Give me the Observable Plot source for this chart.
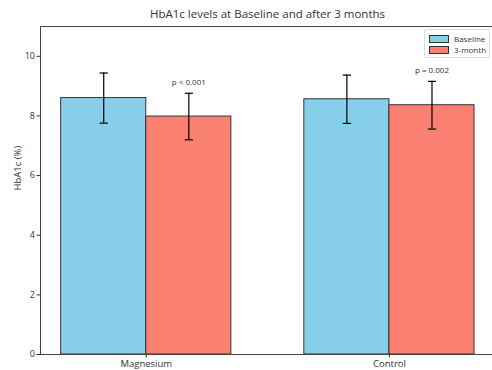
<!DOCTYPE html>
<html>
<head>
<meta charset="utf-8">
<script src="https://cdn.jsdelivr.net/npm/d3@7"></script>
<script src="https://cdn.jsdelivr.net/npm/@observablehq/plot@0.6"></script>
<style>
  body { margin: 0; background: #fff; }
  #wrap { position: relative; width: 492px; height: 370px; font-family: "Open Sans", sans-serif; color: #333; }
  #title { position: absolute; top: 6px; left: 40px; width: 455px; text-align: center; font-size: 11.5px; color: #333; }
  #legend { position: absolute; left: 424px; top: 29px; width: 64px; height: 27px; border: 1px solid #ddd; border-radius: 2px; background: rgba(255,255,255,0.85); font-size: 8px; color: #333; }
  .item { position: absolute; left: 4px; display: flex; align-items: center; }
  .sw { width: 18px; height: 6px; border: 1px solid #333; margin-right: 5px; }
</style>
</head>
<body>
<div id="wrap">
  <div id="chart"></div>
  <div id="title">HbA1c levels at Baseline and after 3 months</div>
  <div id="legend"></div>
</div>
<script>
const categories = ["Magnesium", "Control"];
const seriesNames = ["Baseline", "3-month"];
const baselineMean = [8.6, 8.56];
const baselineSD = [0.84, 0.81];
const month3Mean = [7.98, 8.36];
const month3SD = [0.78, 0.8];
const pLabels = ["p < 0.001", "p = 0.002"];
const yTicks = [0, 2, 4, 6, 8, 10];
const colors = ["#87CEEB", "#FA8072"];

const BARW = 0.35;
const CAP = 0.017;

const table = [];
categories.forEach((c, i) => {
  [[baselineMean, baselineSD], [month3Mean, month3SD]].forEach(([m, s], k) => {
    const x1 = i + (k === 0 ? -BARW : 0);
    table.push({cat: c, series: seriesNames[k], x1, x2: x1 + BARW, xc: x1 + BARW / 2,
      mean: m[i], lo: m[i] - s[i], hi: m[i] + s[i], color: colors[k]});
  });
});
const pTable = table.filter(d => d.series === "3-month").map((d, i) => ({...d, label: pLabels[i]}));

const xDomain = [-0.435, 1.435];
const plot = Plot.plot({
  width: 492,
  height: 370,
  marginLeft: 40,
  marginTop: 26,
  marginBottom: 16,
  marginRight: 0,
  style: {fontFamily: "Open Sans, sans-serif", fontSize: "9px", color: "#333", background: "#fff"},
  x: {domain: xDomain, range: [40, 494.7], ticks: [0, 1], tickFormat: i => categories[i], tickSize: 3.5, label: null},
  y: {domain: [0, 11], ticks: yTicks, tickSize: 3.5, label: null},
  marks: [
    Plot.rect(table, {x1: "x1", x2: "x2", y1: 0, y2: "mean", fill: "color", stroke: "#333", strokeWidth: 1}),
    Plot.ruleX(table, {x: "xc", y1: "lo", y2: "hi", stroke: "#000", strokeWidth: 1.2}),
    Plot.link(table, {x1: d => d.xc - CAP, x2: d => d.xc + CAP, y1: "hi", y2: "hi", stroke: "#000", strokeWidth: 1.2}),
    Plot.link(table, {x1: d => d.xc - CAP, x2: d => d.xc + CAP, y1: "lo", y2: "lo", stroke: "#000", strokeWidth: 1.2}),
    Plot.text(pTable, {x: "xc", y: "hi", text: "label", dy: -11, fontSize: 8, fill: "#333"}),
    Plot.ruleY([0, 11], {stroke: "#444", strokeWidth: 1}),
    Plot.ruleX([xDomain[0], xDomain[1]], {stroke: "#444", strokeWidth: 1}),
    Plot.axisX({ticks: [0, 1], tickFormat: i => categories[i], tickSize: 3.5, fontSize: 9.5, tickPadding: 2}),
    Plot.axisY({ticks: yTicks, tickSize: 3.5, tickPadding: 2, fontSize: 9}),
    Plot.text(["HbA1c (%)"], {frameAnchor: "left", dx: -23, rotate: -90, fontSize: 9.5, fill: "#333"})
  ]
});
document.getElementById("chart").appendChild(plot);

const lg = document.getElementById("legend");
seriesNames.forEach((n, k) => {
  const it = document.createElement("div");
  it.className = "item";
  it.style.top = (3 + k * 11) + "px";
  it.innerHTML = `<span class="sw" style="background:${colors[k]}"></span><span>${n}</span>`;
  lg.appendChild(it);
});
</script>
</body>
</html>
